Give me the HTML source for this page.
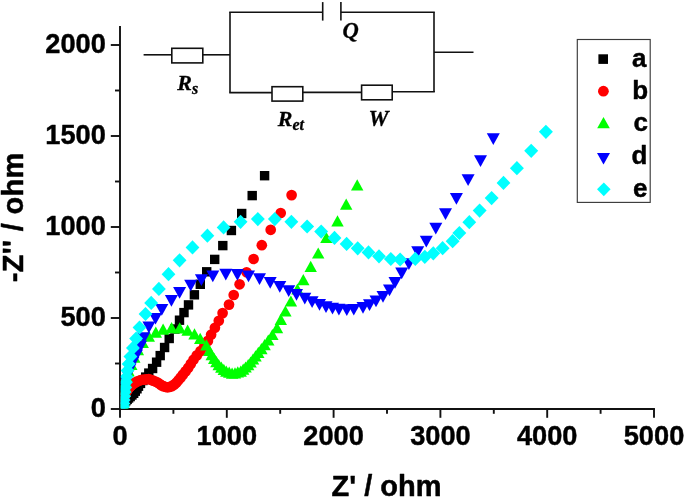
<!DOCTYPE html>
<html><head><meta charset="utf-8"><title>Nyquist plot</title>
<style>html,body{margin:0;padding:0;background:#fff;}body{width:685px;height:498px;overflow:hidden;font-family:"Liberation Sans",sans-serif;}svg{display:block;will-change:transform;}</style>
</head><body>
<svg width="685" height="498" viewBox="0 0 685 498"><g stroke="#111" stroke-width="1.9" fill="none" stroke-linecap="butt">
<path d="M120.0 26 V409.0 H654.95"/>
<path d="M120.00 409.0 v8.8"/>
<path d="M173.40 409.0 v4.8"/>
<path d="M226.80 409.0 v8.8"/>
<path d="M280.20 409.0 v4.8"/>
<path d="M333.60 409.0 v8.8"/>
<path d="M387.00 409.0 v4.8"/>
<path d="M440.40 409.0 v8.8"/>
<path d="M493.80 409.0 v4.8"/>
<path d="M547.20 409.0 v8.8"/>
<path d="M600.60 409.0 v4.8"/>
<path d="M654.00 409.0 v8.8"/>
<path d="M120.0 409.00 h-9.2"/>
<path d="M120.0 363.50 h-5.0"/>
<path d="M120.0 318.00 h-9.2"/>
<path d="M120.0 272.50 h-5.0"/>
<path d="M120.0 227.00 h-9.2"/>
<path d="M120.0 181.50 h-5.0"/>
<path d="M120.0 136.00 h-9.2"/>
<path d="M120.0 90.50 h-5.0"/>
<path d="M120.0 45.00 h-9.2"/>
</g>
<g font-family="Liberation Sans, sans-serif" font-weight="bold" font-size="28.5" fill="#000" stroke="#000" stroke-width="0.45" stroke-linejoin="round">
<text transform="translate(120.0,445) scale(0.955,1)" text-anchor="middle">0</text>
<text transform="translate(226.8,445) scale(0.955,1)" text-anchor="middle">1000</text>
<text transform="translate(333.6,445) scale(0.955,1)" text-anchor="middle">2000</text>
<text transform="translate(440.4,445) scale(0.955,1)" text-anchor="middle">3000</text>
<text transform="translate(547.2,445) scale(0.955,1)" text-anchor="middle">4000</text>
<text transform="translate(654.0,445) scale(0.955,1)" text-anchor="middle">5000</text>
<text transform="translate(105.8,417.3) scale(0.955,1)" text-anchor="end">0</text>
<text transform="translate(105.8,326.3) scale(0.955,1)" text-anchor="end">500</text>
<text transform="translate(105.8,235.3) scale(0.955,1)" text-anchor="end">1000</text>
<text transform="translate(105.8,144.3) scale(0.955,1)" text-anchor="end">1500</text>
<text transform="translate(105.8,53.3) scale(0.955,1)" text-anchor="end">2000</text>
</g>
<g font-family="Liberation Sans, sans-serif" font-weight="bold" font-size="29" fill="#000" stroke="#000" stroke-width="0.5" stroke-linejoin="round">
<text x="386.5" y="496" text-anchor="middle">Z' / ohm</text>
<text transform="translate(22.8,217.3) rotate(-90)" text-anchor="middle" letter-spacing="0.35">-Z'' / ohm</text>
</g>
<clipPath id="cp"><rect x="120.8" y="0" width="685" height="408.4"/></clipPath>
<g clip-path="url(#cp)">
<g fill="#000"><rect x="118.7" y="400.2" width="9.4" height="9.4"/><rect x="119.2" y="398.7" width="9.4" height="9.4"/><rect x="119.9" y="397.3" width="9.4" height="9.4"/><rect x="121.2" y="396.0" width="9.4" height="9.4"/><rect x="122.5" y="394.7" width="9.4" height="9.4"/><rect x="123.9" y="393.3" width="9.4" height="9.4"/><rect x="125.5" y="391.9" width="9.4" height="9.4"/><rect x="127.2" y="390.3" width="9.4" height="9.4"/><rect x="129.0" y="388.6" width="9.4" height="9.4"/><rect x="130.6" y="386.5" width="9.4" height="9.4"/><rect x="132.3" y="384.1" width="9.4" height="9.4"/><rect x="133.8" y="381.5" width="9.4" height="9.4"/><rect x="135.8" y="378.7" width="9.4" height="9.4"/><rect x="138.2" y="375.8" width="9.4" height="9.4"/><rect x="141.0" y="372.4" width="9.4" height="9.4"/><rect x="144.1" y="368.4" width="9.4" height="9.4"/><rect x="147.9" y="363.8" width="9.4" height="9.4"/><rect x="151.9" y="357.5" width="9.4" height="9.4"/><rect x="155.5" y="350.9" width="9.4" height="9.4"/><rect x="159.9" y="342.8" width="9.4" height="9.4"/><rect x="164.5" y="333.8" width="9.4" height="9.4"/><rect x="170.2" y="324.3" width="9.4" height="9.4"/><rect x="174.8" y="315.5" width="9.4" height="9.4"/><rect x="179.3" y="307.9" width="9.4" height="9.4"/><rect x="183.8" y="300.2" width="9.4" height="9.4"/><rect x="189.7" y="290.1" width="9.4" height="9.4"/><rect x="195.6" y="279.6" width="9.4" height="9.4"/><rect x="202.0" y="267.1" width="9.4" height="9.4"/><rect x="210.0" y="254.7" width="9.4" height="9.4"/><rect x="218.1" y="240.9" width="9.4" height="9.4"/><rect x="226.7" y="225.8" width="9.4" height="9.4"/><rect x="237.0" y="208.8" width="9.4" height="9.4"/><rect x="247.5" y="190.9" width="9.4" height="9.4"/><rect x="259.9" y="171.0" width="9.4" height="9.4"/></g>
<g fill="#ff0000"><circle cx="123.2" cy="404.7" r="5.35"/><circle cx="123.3" cy="403.2" r="5.35"/><circle cx="123.5" cy="401.7" r="5.35"/><circle cx="123.7" cy="400.2" r="5.35"/><circle cx="123.9" cy="398.7" r="5.35"/><circle cx="124.2" cy="397.3" r="5.35"/><circle cx="124.7" cy="395.9" r="5.35"/><circle cx="125.2" cy="394.4" r="5.35"/><circle cx="125.7" cy="393.0" r="5.35"/><circle cx="126.2" cy="391.6" r="5.35"/><circle cx="127.1" cy="390.4" r="5.35"/><circle cx="128.0" cy="389.1" r="5.35"/><circle cx="128.9" cy="387.7" r="5.35"/><circle cx="130.0" cy="386.6" r="5.35"/><circle cx="131.3" cy="385.5" r="5.35"/><circle cx="132.7" cy="384.3" r="5.35"/><circle cx="134.2" cy="383.2" r="5.35"/><circle cx="135.9" cy="382.2" r="5.35"/><circle cx="137.6" cy="381.3" r="5.35"/><circle cx="139.6" cy="380.5" r="5.35"/><circle cx="141.7" cy="379.8" r="5.35"/><circle cx="144.0" cy="379.6" r="5.35"/><circle cx="146.3" cy="379.3" r="5.35"/><circle cx="148.7" cy="379.0" r="5.35"/><circle cx="150.9" cy="379.8" r="5.35"/><circle cx="153.2" cy="380.7" r="5.35"/><circle cx="155.4" cy="381.5" r="5.35"/><circle cx="157.6" cy="382.5" r="5.35"/><circle cx="159.4" cy="383.8" r="5.35"/><circle cx="161.2" cy="385.1" r="5.35"/><circle cx="163.2" cy="386.2" r="5.35"/><circle cx="165.2" cy="386.8" r="5.35"/><circle cx="167.4" cy="387.3" r="5.35"/><circle cx="169.6" cy="386.9" r="5.35"/><circle cx="171.9" cy="386.2" r="5.35"/><circle cx="174.1" cy="384.6" r="5.35"/><circle cx="176.3" cy="382.7" r="5.35"/><circle cx="178.4" cy="380.3" r="5.35"/><circle cx="180.6" cy="377.6" r="5.35"/><circle cx="182.9" cy="374.6" r="5.35"/><circle cx="185.5" cy="371.4" r="5.35"/><circle cx="188.2" cy="367.9" r="5.35"/><circle cx="190.8" cy="363.9" r="5.35"/><circle cx="193.5" cy="359.7" r="5.35"/><circle cx="196.8" cy="355.4" r="5.35"/><circle cx="200.5" cy="351.1" r="5.35"/><circle cx="204.3" cy="346.3" r="5.35"/><circle cx="207.9" cy="340.9" r="5.35"/><circle cx="211.1" cy="334.7" r="5.35"/><circle cx="214.9" cy="327.8" r="5.35"/><circle cx="218.8" cy="320.8" r="5.35"/><circle cx="222.6" cy="313.1" r="5.35"/><circle cx="229.0" cy="304.6" r="5.35"/><circle cx="233.7" cy="295.0" r="5.35"/><circle cx="239.6" cy="284.3" r="5.35"/><circle cx="246.6" cy="272.3" r="5.35"/><circle cx="253.6" cy="259.0" r="5.35"/><circle cx="261.8" cy="245.2" r="5.35"/><circle cx="270.7" cy="229.8" r="5.35"/><circle cx="280.7" cy="213.0" r="5.35"/><circle cx="291.6" cy="195.1" r="5.35"/></g>
<g fill="#00ff00"><path d="M122.5 402.4L128.7 413.6L116.3 413.6Z"/><path d="M122.7 400.2L128.9 411.4L116.5 411.4Z"/><path d="M122.8 397.9L129.0 409.1L116.6 409.1Z"/><path d="M123.0 395.4L129.2 406.6L116.8 406.6Z"/><path d="M123.3 392.6L129.5 403.8L117.1 403.8Z"/><path d="M123.5 389.6L129.7 400.8L117.3 400.8Z"/><path d="M123.8 386.5L130.0 397.7L117.6 397.7Z"/><path d="M124.2 383.2L130.4 394.4L118.0 394.4Z"/><path d="M124.6 379.6L130.8 390.8L118.4 390.8Z"/><path d="M125.4 375.6L131.6 386.8L119.2 386.8Z"/><path d="M126.5 370.9L132.7 382.1L120.3 382.1Z"/><path d="M128.6 365.2L134.8 376.4L122.4 376.4Z"/><path d="M131.3 358.9L137.5 370.1L125.1 370.1Z"/><path d="M134.3 351.5L140.5 362.7L128.1 362.7Z"/><path d="M137.9 344.1L144.1 355.3L131.7 355.3Z"/><path d="M142.7 336.9L148.9 348.1L136.5 348.1Z"/><path d="M148.8 330.5L155.0 341.7L142.6 341.7Z"/><path d="M155.8 326.5L162.0 337.7L149.6 337.7Z"/><path d="M163.1 323.6L169.3 334.8L156.9 334.8Z"/><path d="M171.6 322.0L177.8 333.2L165.4 333.2Z"/><path d="M179.7 322.3L185.9 333.5L173.5 333.5Z"/><path d="M187.6 324.6L193.8 335.8L181.4 335.8Z"/><path d="M194.5 328.2L200.7 339.4L188.3 339.4Z"/><path d="M200.2 332.8L206.4 344.0L194.0 344.0Z"/><path d="M206.4 339.3L212.6 350.5L200.2 350.5Z"/><path d="M209.3 344.9L215.5 356.1L203.1 356.1Z"/><path d="M211.7 349.1L217.9 360.3L205.5 360.3Z"/><path d="M214.2 352.7L220.4 363.9L208.0 363.9Z"/><path d="M216.4 356.1L222.6 367.3L210.2 367.3Z"/><path d="M218.7 359.1L224.9 370.3L212.5 370.3Z"/><path d="M221.3 361.5L227.5 372.7L215.1 372.7Z"/><path d="M223.8 363.7L230.0 374.9L217.6 374.9Z"/><path d="M226.3 365.6L232.5 376.8L220.1 376.8Z"/><path d="M229.2 366.6L235.4 377.8L223.0 377.8Z"/><path d="M232.1 367.6L238.3 378.8L225.9 378.8Z"/><path d="M235.0 367.2L241.2 378.4L228.8 378.4Z"/><path d="M237.8 366.3L244.0 377.5L231.6 377.5Z"/><path d="M240.7 365.5L246.9 376.7L234.5 376.7Z"/><path d="M243.2 363.6L249.4 374.8L237.0 374.8Z"/><path d="M245.6 361.4L251.8 372.6L239.4 372.6Z"/><path d="M248.2 359.1L254.4 370.3L242.0 370.3Z"/><path d="M250.6 356.4L256.8 367.6L244.4 367.6Z"/><path d="M253.0 353.4L259.2 364.6L246.8 364.6Z"/><path d="M255.5 350.2L261.7 361.4L249.3 361.4Z"/><path d="M258.3 346.8L264.5 358.0L252.1 358.0Z"/><path d="M261.4 343.1L267.6 354.3L255.2 354.3Z"/><path d="M264.6 339.1L270.8 350.3L258.4 350.3Z"/><path d="M268.3 334.4L274.5 345.6L262.1 345.6Z"/><path d="M272.4 328.9L278.6 340.1L266.2 340.1Z"/><path d="M277.0 322.1L283.2 333.3L270.8 333.3Z"/><path d="M280.8 313.8L287.0 325.0L274.6 325.0Z"/><path d="M285.4 305.4L291.6 316.6L279.2 316.6Z"/><path d="M290.9 295.4L297.1 306.6L284.7 306.6Z"/><path d="M297.4 283.4L303.6 294.6L291.2 294.6Z"/><path d="M303.3 274.1L309.5 285.3L297.1 285.3Z"/><path d="M310.7 260.8L316.9 272.0L304.5 272.0Z"/><path d="M318.2 247.4L324.4 258.6L312.0 258.6Z"/><path d="M326.4 231.9L332.6 243.1L320.2 243.1Z"/><path d="M337.5 215.3L343.7 226.5L331.3 226.5Z"/><path d="M346.2 198.5L352.4 209.7L340.0 209.7Z"/><path d="M357.2 179.3L363.4 190.5L351.0 190.5Z"/></g>
<g fill="#0000ff"><path d="M123.1 413.0L129.6 401.3L116.6 401.3Z"/><path d="M123.5 408.7L130.0 397.0L117.0 397.0Z"/><path d="M123.9 404.0L130.4 392.3L117.4 392.3Z"/><path d="M124.6 399.0L131.1 387.3L118.1 387.3Z"/><path d="M125.3 393.6L131.8 381.9L118.8 381.9Z"/><path d="M126.3 387.8L132.8 376.1L119.8 376.1Z"/><path d="M127.7 381.6L134.2 369.9L121.2 369.9Z"/><path d="M130.0 375.2L136.5 363.5L123.5 363.5Z"/><path d="M132.9 368.4L139.4 356.7L126.4 356.7Z"/><path d="M136.5 361.2L143.0 349.5L130.0 349.5Z"/><path d="M140.5 352.5L147.0 340.8L134.0 340.8Z"/><path d="M143.8 343.9L150.3 332.2L137.3 332.2Z"/><path d="M148.9 333.2L155.4 321.5L142.4 321.5Z"/><path d="M155.5 324.6L162.0 312.9L149.0 312.9Z"/><path d="M161.8 315.8L168.3 304.1L155.3 304.1Z"/><path d="M171.4 306.7L177.9 295.0L164.9 295.0Z"/><path d="M179.6 298.8L186.1 287.1L173.1 287.1Z"/><path d="M190.7 291.4L197.2 279.7L184.2 279.7Z"/><path d="M201.4 285.9L207.9 274.2L194.9 274.2Z"/><path d="M212.8 282.2L219.3 270.5L206.3 270.5Z"/><path d="M225.8 280.4L232.3 268.7L219.3 268.7Z"/><path d="M237.4 280.7L243.9 269.0L230.9 269.0Z"/><path d="M248.5 282.2L255.0 270.5L242.0 270.5Z"/><path d="M259.5 285.0L266.0 273.3L253.0 273.3Z"/><path d="M270.2 288.7L276.7 277.0L263.7 277.0Z"/><path d="M279.8 292.7L286.3 281.0L273.3 281.0Z"/><path d="M288.7 297.0L295.2 285.3L282.2 285.3Z"/><path d="M296.5 300.7L303.0 289.0L290.0 289.0Z"/><path d="M304.8 304.4L311.3 292.7L298.3 292.7Z"/><path d="M312.1 308.0L318.6 296.3L305.6 296.3Z"/><path d="M319.5 310.8L326.0 299.1L313.0 299.1Z"/><path d="M326.0 313.0L332.5 301.3L319.5 301.3Z"/><path d="M332.5 314.5L339.0 302.8L326.0 302.8Z"/><path d="M338.9 315.4L345.4 303.7L332.4 303.7Z"/><path d="M346.8 316.0L353.3 304.3L340.3 304.3Z"/><path d="M353.8 315.6L360.3 303.9L347.3 303.9Z"/><path d="M363.0 313.7L369.5 302.0L356.5 302.0Z"/><path d="M369.5 311.0L376.0 299.3L363.0 299.3Z"/><path d="M376.0 307.2L382.5 295.5L369.5 295.5Z"/><path d="M383.0 302.7L389.5 291.0L376.5 291.0Z"/><path d="M389.5 296.2L396.0 284.5L383.0 284.5Z"/><path d="M395.0 288.8L401.5 277.1L388.5 277.1Z"/><path d="M401.7 279.2L408.2 267.5L395.2 267.5Z"/><path d="M408.9 270.0L415.4 258.3L402.4 258.3Z"/><path d="M417.7 258.0L424.2 246.3L411.2 246.3Z"/><path d="M426.3 247.5L432.8 235.8L419.8 235.8Z"/><path d="M435.8 234.4L442.3 222.7L429.3 222.7Z"/><path d="M445.5 219.9L452.0 208.2L439.0 208.2Z"/><path d="M456.4 204.7L462.9 193.0L449.9 193.0Z"/><path d="M468.1 185.9L474.6 174.2L461.6 174.2Z"/><path d="M480.5 166.9L487.0 155.2L474.0 155.2Z"/><path d="M493.3 144.9L499.8 133.2L486.8 133.2Z"/></g>
<g fill="#00ffff"><path d="M123.0 399.6L130.0 406.7L123.0 413.8L116.1 406.7Z"/><path d="M123.3 396.4L130.3 403.5L123.3 410.6L116.4 403.5Z"/><path d="M123.7 392.9L130.6 400.0L123.7 407.1L116.7 400.0Z"/><path d="M124.1 389.1L131.1 396.2L124.1 403.3L117.2 396.2Z"/><path d="M124.7 384.9L131.6 392.0L124.7 399.1L117.7 392.0Z"/><path d="M125.3 380.3L132.2 387.4L125.3 394.5L118.3 387.4Z"/><path d="M125.9 375.2L132.9 382.3L125.9 389.4L119.0 382.3Z"/><path d="M126.7 369.6L133.6 376.7L126.7 383.8L119.7 376.7Z"/><path d="M127.6 363.5L134.5 370.6L127.6 377.7L120.6 370.6Z"/><path d="M128.6 356.8L135.6 363.9L128.6 371.0L121.7 363.9Z"/><path d="M130.5 349.5L137.4 356.6L130.5 363.7L123.5 356.6Z"/><path d="M133.0 340.8L139.9 347.9L133.0 355.0L126.0 347.9Z"/><path d="M136.1 331.5L143.0 338.6L136.1 345.7L129.2 338.6Z"/><path d="M139.5 320.4L146.4 327.5L139.5 334.6L132.6 327.5Z"/><path d="M145.5 306.9L152.4 314.0L145.5 321.1L138.6 314.0Z"/><path d="M151.2 295.8L158.1 302.9L151.2 310.0L144.2 302.9Z"/><path d="M158.9 281.8L165.8 288.9L158.9 296.0L152.0 288.9Z"/><path d="M168.5 267.1L175.4 274.2L168.5 281.3L161.6 274.2Z"/><path d="M179.6 253.2L186.5 260.3L179.6 267.4L172.7 260.3Z"/><path d="M192.5 240.3L199.4 247.4L192.5 254.5L185.6 247.4Z"/><path d="M207.4 228.6L214.3 235.7L207.4 242.8L200.5 235.7Z"/><path d="M223.6 220.3L230.5 227.4L223.6 234.5L216.7 227.4Z"/><path d="M240.6 214.7L247.5 221.8L240.6 228.9L233.7 221.8Z"/><path d="M257.8 212.0L264.8 219.1L257.8 226.2L250.9 219.1Z"/><path d="M274.8 212.0L281.8 219.1L274.8 226.2L267.9 219.1Z"/><path d="M291.4 214.7L298.3 221.8L291.4 228.9L284.4 221.8Z"/><path d="M307.1 219.4L314.1 226.5L307.1 233.6L300.2 226.5Z"/><path d="M321.2 224.5L328.1 231.6L321.2 238.7L314.2 231.6Z"/><path d="M334.5 230.8L341.4 237.9L334.5 245.0L327.6 237.9Z"/><path d="M346.6 236.8L353.6 243.9L346.6 251.0L339.7 243.9Z"/><path d="M357.7 241.2L364.6 248.3L357.7 255.4L350.8 248.3Z"/><path d="M368.5 245.3L375.4 252.4L368.5 259.5L361.6 252.4Z"/><path d="M379.0 249.2L385.9 256.3L379.0 263.4L372.1 256.3Z"/><path d="M390.8 251.9L397.8 259.0L390.8 266.1L383.9 259.0Z"/><path d="M400.1 252.4L407.1 259.5L400.1 266.6L393.2 259.5Z"/><path d="M415.3 251.8L422.2 258.9L415.3 266.0L408.4 258.9Z"/><path d="M424.8 249.7L431.8 256.8L424.8 263.9L417.9 256.8Z"/><path d="M433.3 246.2L440.2 253.3L433.3 260.4L426.4 253.3Z"/><path d="M442.6 241.1L449.6 248.2L442.6 255.3L435.7 248.2Z"/><path d="M452.6 234.1L459.6 241.2L452.6 248.3L445.7 241.2Z"/><path d="M459.4 225.9L466.3 233.0L459.4 240.1L452.4 233.0Z"/><path d="M469.3 215.1L476.2 222.2L469.3 229.3L462.4 222.2Z"/><path d="M479.6 203.5L486.6 210.6L479.6 217.7L472.7 210.6Z"/><path d="M491.6 191.0L498.6 198.1L491.6 205.2L484.7 198.1Z"/><path d="M503.5 175.8L510.4 182.9L503.5 190.0L496.6 182.9Z"/><path d="M516.9 161.1L523.9 168.2L516.9 175.3L509.9 168.2Z"/><path d="M531.2 143.7L538.2 150.8L531.2 157.9L524.2 150.8Z"/><path d="M545.9 124.7L552.9 131.8L545.9 138.9L538.9 131.8Z"/></g>
</g>
<rect x="577.3" y="39.5" width="72.9" height="162.9" fill="#fff" stroke="#3a3a3a" stroke-width="1.15"/>
<g fill="#000"><rect x="598.4" y="54.3" width="9.6" height="9.6"/></g>
<g fill="#ff0000"><circle cx="603.4" cy="91.2" r="5.4"/></g>
<g fill="#00ff00"><path d="M603.5 117.0L609.8 128.2L597.2 128.2Z"/></g>
<g fill="#0000ff"><path d="M603.5 164.6L610.0 152.9L597.0 152.9Z"/></g>
<g fill="#00ffff"><path d="M603.8 182.4L610.6 189.3L603.8 196.2L597.0 189.3Z"/></g>
<g font-family="Liberation Sans, sans-serif" font-weight="bold" font-size="26" fill="#000" stroke="#000" stroke-width="0.45" stroke-linejoin="round">
<text x="632.1" y="66.8">a</text>
<text x="632.3" y="99.3">b</text>
<text x="633.5" y="131.2">c</text>
<text x="631.6" y="163.8">d</text>
<text x="632.9" y="196.5">e</text>
</g>
<g stroke="#111" stroke-width="1.6" fill="none">
<path d="M143.6 54.8 H171.8"/>
<rect x="171.8" y="48.3" width="31" height="14.6"/>
<path d="M202.8 54.8 H230"/>
<path d="M230 12.3 V92.6"/>
<path d="M229.2 12.3 H322.7"/>
<path d="M322.7 2.1 V20.6"/>
<path d="M340.9 2.1 V20.6"/>
<path d="M340.9 12.3 H434.8"/>
<path d="M434 12.3 V92"/>
<path d="M434 52.2 H473.5"/>
<path d="M229.2 92.6 H272"/>
<rect x="272" y="86.7" width="30.8" height="14.4"/>
<path d="M302.8 92.4 H361.6"/>
<rect x="361.6" y="85.2" width="30.6" height="14.6"/>
<path d="M392.2 91.8 H434.8"/>
</g>
<g font-family="Liberation Serif, serif" font-weight="bold" font-style="italic" fill="#000" stroke="#000" stroke-width="0.3">
<text x="177.3" y="89.8" font-size="22">R<tspan font-size="16" dy="4">s</tspan></text>
<text x="277.8" y="126" font-size="22">R<tspan font-size="16" dy="4">et</tspan></text>
<text x="342.6" y="38" font-size="22.5">Q</text>
<text x="368.6" y="125.6" font-size="22.5">W</text>
</g></svg>
</body></html>
